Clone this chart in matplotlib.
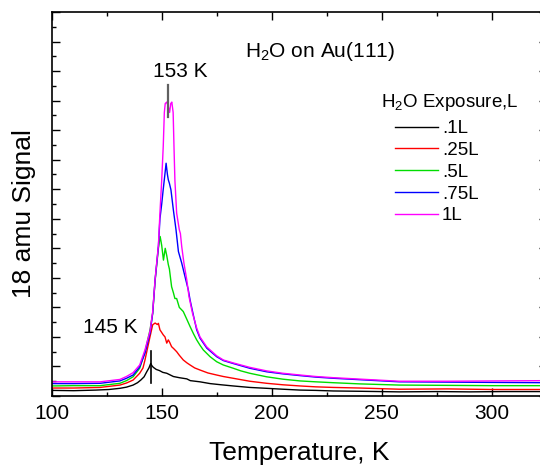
import matplotlib
matplotlib.use("Agg")
import matplotlib.pyplot as plt
from matplotlib.ticker import MultipleLocator

plt.rcParams['font.family'] = ['Liberation Sans', 'DejaVu Sans']
plt.rcParams['mathtext.fontset'] = 'custom'
plt.rcParams['mathtext.rm'] = 'Liberation Sans'
plt.rcParams['mathtext.default'] = 'regular'

# TPD spectra of water on Au(111): temperature (K) and 18 amu signal (arb. units)
t_01 = [100, 110, 120, 126, 131, 134, 137, 139, 140.5, 142, 143.2, 144.2, 145, 145.6,
        146.2, 147.5, 149, 150.5, 152.3, 155.3, 158, 161.4, 163, 167.4, 172, 177,
        182.5, 190, 197.7, 205, 212.9, 220, 228, 240, 258, 275, 290, 305, 325]
s_01 = [.19, .18, .2, .22, .26, .3, .37, .45, .54, .65, .82, .95, 1.1, 1.02,
        .97, .9, .86, .8, .77, .66, .62, .58, .52, .48, .42, .38,
        .34, .29, .26, .23, .2, .19, .17, .16, .14, .15, .14, .15, .15]

t_025 = [100, 110, 122, 131, 134, 137, 140, 141.5, 142.4, 143.5, 144.7, 145.9, 147, 148,
         148.5, 149.2, 150, 150.7, 151.5, 152.3, 153, 153.6, 154.5, 155.5, 156.8, 158,
         159.8, 161.5, 162.9, 165, 167.4, 171, 175, 178, 182.5, 190, 197.7, 205, 212.9,
         220, 228, 240, 258, 280, 300, 325]
s_025 = [.27, .27, .29, .37, .44, .54, .77, .95, 1.22, 1.6, 2.01, 2.41, 2.47, 2.42,
         2.46, 2.24, 2.15, 2.07, 2.0, 1.79, 1.9, 1.82, 1.67, 1.6, 1.5, 1.38,
         1.22, 1.12, 1.05, .95, .88, .78, .71, .66, .6, .5, .43, .38, .34,
         .31, .29, .27, .23, .24, .22, .22]

t_05 = [100, 110, 122, 131, 134, 137, 140, 142.4, 144.7, 145.9, 147, 148.5, 149.3, 150,
        150.8, 151.6, 152.3, 153, 153.5, 154.5, 155.3, 156, 156.8, 158, 159.8, 161.4,
        162.9, 164.5, 165.9, 167.4, 168.9, 172, 175, 178, 182.5, 186, 190, 197.7, 205,
        212.9, 220, 228, 240, 258, 280, 300, 325]
s_05 = [.34, .35, .35, .43, .52, .65, .94, 1.5, 2.24, 2.8, 3.9, 5.0, 5.4, 5.1,
        4.6, 5.0, 4.75, 4.45, 4.3, 3.7, 3.5, 3.3, 3.3, 3.0, 2.86, 2.6,
        2.35, 2.1, 1.9, 1.72, 1.56, 1.33, 1.16, 1.05, .94, .85, .77, .65, .57,
        .51, .48, .45, .41, .37, .36, .35, .35]

t_075 = [100, 110, 122, 131, 134, 137, 140, 142.4, 144.7, 145.9, 147, 148.5, 149.2, 150,
         150.7, 151.3, 152, 152.6, 153, 153.5, 154.2, 155.3, 156.5, 157.6, 159.1, 160.6,
         162.1, 162.9, 164.5, 165.9, 167.4, 170.5, 175, 178, 182.5, 190, 197.7, 205,
         212.9, 220, 228, 243, 258, 280, 300, 325]
s_075 = [.42, .42, .43, .51, .6, .71, .99, 1.45, 2.13, 2.8, 3.93, 5.06, 6.0, 6.5,
         7.0, 7.4, 7.88, 7.5, 7.32, 7.2, 6.98, 6.3, 5.63, 4.89, 4.5, 4.04,
         3.59, 3.25, 2.7, 2.24, 1.96, 1.62, 1.33, 1.2, 1.1, .94, .82, .75,
         .69, .64, .6, .54, .48, .47, .46, .45]

t_1 = [100, 110, 122, 131, 134, 137, 140, 142.4, 144.7, 145.9, 147, 148.5, 149.2, 150,
       150.7, 151.2, 151.6, 152.3, 153, 153.6, 154.1, 154.6, 155.2, 155.6, 156, 156.8,
       158, 158.5, 159.1, 160.1, 161.4, 162.4, 164, 165.9, 167.4, 170.5, 175, 178,
       182.5, 190, 197.7, 205, 212.9, 220, 228, 243, 258, 280, 300, 325]
s_1 = [.48, .48, .48, .56, .66, .79, 1.05, 1.56, 2.2, 2.85, 3.95, 5.1, 6.2, 7.3,
       8.45, 9.6, 9.9, 9.95, 9.8, 9.6, 9.9, 9.95, 9.6, 8.4, 7.3, 6.19,
       5.63, 5.5, 5.06, 4.5, 3.93, 3.37, 2.8, 2.3, 2.0, 1.66, 1.36, 1.22,
       1.12, .97, .85, .77, .71, .66, .62, .56, .5, .5, .51, .52]

exposures = ['.1L', '.25L', '.5L', '.75L', '1L']
colors = ['black', '#ff0000', '#00dd00', '#0000ff', '#ff00ff']
series = [(t_01, s_01), (t_025, s_025), (t_05, s_05), (t_075, s_075), (t_1, s_1)]

peak_low = 145    # K, first-layer peak
peak_high = 153   # K, multilayer peak

fig = plt.figure(figsize=(5.4, 4.68), dpi=100)
W, H = 540.0, 468.0
ax = fig.add_axes([51.7 / W, 72 / H, 495 / W, 384 / H])

for (t, s), c, lab in zip(series, colors, exposures):
    ax.plot(t, s, color=c, lw=1.0, label=lab)

ax.set_xlim(100, 325)
ax.set_ylim(0, 13)
ax.xaxis.set_major_locator(MultipleLocator(50))
ax.xaxis.set_minor_locator(MultipleLocator(25))
ax.yaxis.set_major_locator(MultipleLocator(1))
ax.yaxis.set_minor_locator(MultipleLocator(0.5))
ax.tick_params(which='both', direction='in', top=True, right=True, width=1.0)
ax.tick_params(which='major', length=6)
ax.tick_params(which='minor', length=3)
ax.tick_params(axis='x', labelsize=15, pad=6)
ax.tick_params(axis='y', labelleft=False)
for sp in ax.spines.values():
    sp.set_linewidth(1.2)

ax.set_xlabel('Temperature, K', fontsize=19)
ax.xaxis.set_label_coords(0.5, -0.148)
ax.xaxis.label.set_va('center')
ax.set_ylabel('18 amu Signal', fontsize=19)
ax.yaxis.set_label_coords(-0.056, 0.475)
ax.yaxis.label.set_va('center')

# peak markers and labels
ax.plot([peak_high, peak_high], [9.46, 10.54], color='#606060', lw=1.6)
ax.text(158.5, 10.97, f'{peak_high} K', fontsize=15, ha='center', va='center')
ax.plot([peak_low, peak_low], [0.43, 1.54], color='black', lw=1.2)
ax.text(126.5, 2.32, f'{peak_low} K', fontsize=15, ha='center', va='center')

ax.text(188, 11.49, r'H$_2$O on Au(111)', fontsize=15, ha='left', va='baseline')

ax.text(249.7, 9.8, r'H$_2$O Exposure,L', fontsize=13.5, ha='left', va='baseline')
ax.legend(loc='upper left', bbox_to_anchor=(395 / W, 1 - 120 / H),
          bbox_transform=fig.transFigure, frameon=False, fontsize=13.5,
          handlelength=2.3, handletextpad=0.2, labelspacing=0.25,
          borderpad=0, borderaxespad=0)

fig.savefig('out.png', dpi=100)
